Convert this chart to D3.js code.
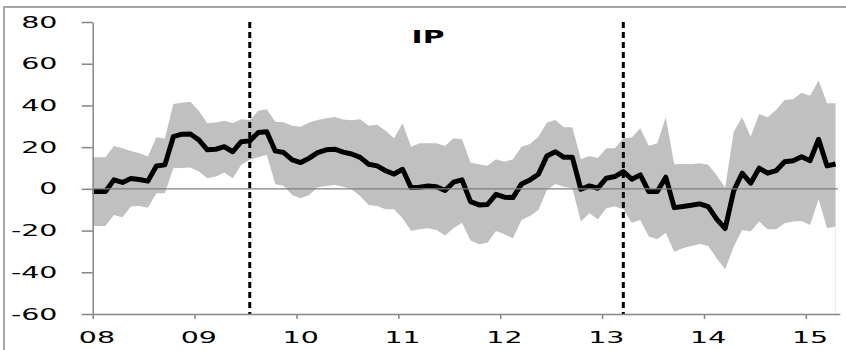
<!DOCTYPE html>
<html>
<head>
<meta charset="utf-8">
<script src="https://cdn.jsdelivr.net/npm/d3@7"></script>
<style>
  html, body { margin: 0; padding: 0; background: #fff; }
  svg { display: block; }
  text { font-family: "DejaVu Sans", Verdana, sans-serif; fill: #000; }
</style>
</head>
<body>
<svg id="chart" width="846" height="350"></svg>
<script>
// Monthly observations, Dec 2007 .. Apr 2015
const startMonth = [2007, 11];   // year, zero-based month of first observation
const ipEstimate = [
  -1.3, -1.3, -1.3, 4.3, 3.1, 5, 4.5, 3.7, 11, 11.5, 25, 26.2, 26.3,
  23.5, 18.7, 19, 20.2, 17.8, 22.6, 23, 27, 27.4, 18.2, 17.4, 13.9,
  12.6, 14.7, 17.4, 18.7, 19, 17.6, 16.7, 15.1, 11.8, 11, 8.7, 7.1,
  9.4, 0.6, 0.8, 1.4, 1, -0.8, 3.2, 4.3, -6.1, -7.7, -7.5, -2.6,
  -4, -4.2, 2.3, 4.3, 7, 15.8, 17.8, 15.1, 15.1, -0.2, 1.4, 0.3,
  5.1, 5.9, 8.3, 4.6, 6.7, -1.3, -1.3, 5.6, -9, -8.5, -7.9, -7.2,
  -8.5, -14.5, -19, -1, 7.5, 2.7, 9.9, 7.5, 8.7, 13, 13.5, 15.4,
  13.5, 23.8, 11, 11.9
];
const bandUpper = [
  15.2, 15.2, 15.2, 20.6, 19.5, 18.2, 17.1, 15.5, 24.7, 24.2, 40.7, 41.3, 41.8,
  37.5, 31.5, 31.8, 32.7, 31.5, 33.4, 33, 37.5, 38.2, 32.2, 31.9, 30.2,
  29.8, 31.8, 33, 33.9, 34.5, 33.2, 32.9, 33.4, 30.2, 30.7, 27.9, 24.3,
  31.5, 20.2, 21.9, 21.9, 21.9, 20.6, 24.3, 23.8, 12.6, 11.8, 11.1, 14.2,
  13, 14.2, 20.2, 21.5, 25, 31.8, 33, 29.5, 29.5, 14.2, 15.8, 14.8,
  19.5, 19.5, 24.3, 24.6, 29, 20.7, 21.9, 34.3, 11.8, 11.9, 11.8, 12.3,
  11.5, 6.5, 0.5, 27.4, 34.3, 25, 35.9, 34.3, 37.8, 42.6, 43, 46.1,
  44.6, 51.9, 41, 41
];
const bandLower = [
  -17.8, -17.8, -17.8, -12.5, -13.6, -8.5, -8.2, -9, -2.1, -2.1, 9.9, 10, 10.2,
  8.3, 5.1, 5.9, 7.8, 5.1, 11.5, 13.9, 15.1, 16.3, 2.3, 1.4, -2.9,
  -4.5, -2.9, 0.8, 1.4, 1.9, 1, -0.2, -3.4, -7.7, -8.2, -9.8, -9.8,
  -14.1, -20.2, -19.4, -18.9, -19.7, -22.4, -18.9, -16.2, -24.8, -26.6, -25.8, -20.2,
  -21.8, -23.7, -14.9, -13, -10.1, -0.5, 2.3, 1, 0.3, -15.7, -11.7, -14.6,
  -9.3, -8.5, -9.8, -16.2, -14.9, -22.9, -24.2, -21, -30.1, -28.5, -27.4, -26.4,
  -27.4, -33.3, -38.6, -27.7, -19.7, -20.5, -15.7, -19.4, -19.4, -16.5, -15.7, -15.4,
  -17.3, -5, -18.9, -18.1
];
const yTicks = [80, 60, 40, 20, 0, -20, -40, -60];
const xTickYears = [2008, 2009, 2010, 2011, 2012, 2013, 2014, 2015];
const eventMonths = [[2009, 6], [2013, 2]];   // Jul 2009, Mar 2013
const panelTitle = "IP";

const svg = d3.select("#chart");
const plot = { left: 92.7, right: 839.8, top: 22, bottom: 314 };

// month index relative to Jan 2008; observations sit mid-month
const monthPos = (y, m) => (y - 2008) * 12 + m + 0.5;
const x = d3.scaleLinear().domain([0, 88]).range([plot.left, plot.right]);
const y = d3.scaleLinear().domain([-60, 80]).range([plot.bottom, plot.top]);

const rows = ipEstimate.map((v, i) => {
  const t = startMonth[0] * 12 + startMonth[1] + i;
  return { pos: monthPos(Math.floor(t / 12), t % 12), mid: v, hi: bandUpper[i], lo: bandLower[i] };
});

// frame around the figure
svg.append("path")
  .attr("d", `M4,350 V7 H846`)
  .attr("fill", "none").attr("stroke", "#a6a6a6").attr("stroke-width", 2);

svg.append("defs").append("clipPath").attr("id", "plotClip")
  .append("rect")
  .attr("x", plot.left).attr("y", plot.top - 10)
  .attr("width", plot.right - plot.left).attr("height", plot.bottom - plot.top + 20);

const g = svg.append("g").attr("clip-path", "url(#plotClip)");

// confidence band
g.append("path")
  .datum(rows)
  .attr("fill", "#c0c0c0")
  .attr("d", d3.area().x(d => x(d.pos)).y0(d => y(d.lo)).y1(d => y(d.hi)));

// faint drop edge below the last band value
const last = rows[rows.length - 1];
svg.append("line")
  .attr("x1", x(last.pos)).attr("x2", x(last.pos))
  .attr("y1", y(last.lo)).attr("y2", plot.bottom)
  .attr("stroke", "#ececec").attr("stroke-width", 1);

// zero line
svg.append("line")
  .attr("x1", plot.left).attr("x2", plot.right - 2)
  .attr("y1", y(0)).attr("y2", y(0))
  .attr("stroke", "#7f7f7f").attr("stroke-width", 1.3);

// event markers
eventMonths.forEach(([yr, m]) => {
  svg.append("line")
    .attr("x1", x(monthPos(yr, m))).attr("x2", x(monthPos(yr, m)))
    .attr("y1", y(80)).attr("y2", y(-60))
    .attr("stroke", "#000").attr("stroke-width", 3)
    .attr("stroke-dasharray", "6,4");
});

// point estimate
g.append("path")
  .datum(rows)
  .attr("fill", "none")
  .attr("stroke", "#000")
  .attr("stroke-width", 5)
  .attr("stroke-linejoin", "round")
  .attr("d", d3.line().x(d => x(d.pos)).y(d => y(d.mid)));

// y axis
const yAxis = svg.append("g").attr("transform", `translate(${plot.left},0)`)
  .call(d3.axisLeft(y).tickValues(yTicks).tickSize(11).tickSizeOuter(0).tickFormat(""));
yAxis.selectAll("path, line").attr("stroke", "#868686").attr("stroke-width", 1.5);
yTicks.forEach(t => {
  svg.append("text")
    .attr("transform", `translate(57.5,${y(t) + 5.5}) scale(1.9,1)`)
    .attr("text-anchor", "end")
    .attr("font-size", 15)
    .text(t);
});

// x axis
const xAxis = svg.append("g").attr("transform", `translate(0,${plot.bottom})`)
  .call(d3.axisBottom(x).tickValues(xTickYears.map(yr => (yr - 2008) * 12))
    .tickSize(5).tickSizeOuter(0).tickFormat(""));
xAxis.selectAll("path, line").attr("stroke", "#868686").attr("stroke-width", 1.5);
xTickYears.forEach(yr => {
  svg.append("text")
    .attr("transform", `translate(${x(monthPos(yr, 0))},343.3) scale(1.9,1)`)
    .attr("text-anchor", "middle")
    .attr("font-size", 15)
    .text(String(yr).slice(2));
});

// panel title
svg.append("text")
  .attr("transform", `translate(428,42.7) scale(1.75,1)`)
  .attr("text-anchor", "middle")
  .attr("font-size", 17)
  .attr("font-weight", "bold")
  .text(panelTitle);
</script>
</body>
</html>
